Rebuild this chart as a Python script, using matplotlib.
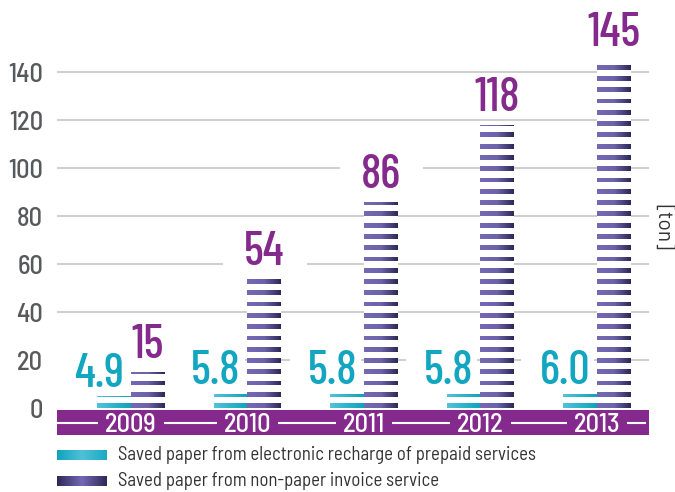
import numpy as np
import matplotlib
matplotlib.use('Agg')
import matplotlib.pyplot as plt
from matplotlib import font_manager
from matplotlib.path import Path
from matplotlib.colors import LinearSegmentedColormap

#-----------------------------------------------------------------------
# Data
years = ['2009', '2010', '2011', '2012', '2013']
recharge = [4.9, 5.8, 5.8, 5.8, 6.0]       # electronic recharge (ton)
invoice = [15, 54, 86, 118, 145]           # non-paper invoice (ton)
yticks = [0, 20, 40, 60, 80, 100, 120, 140]
legend_labels = ['Saved paper from electronic recharge of prepaid services',
                 'Saved paper from non-paper invoice service']
unit_label = '[ton]'

#-----------------------------------------------------------------------
# Fonts (Barlow is close to the DIN look of the original)
def find_font(*names):
    for n in names:
        for f in font_manager.fontManager.ttflist:
            if f.fname.split('/')[-1] == n:
                return f.fname
    return None

f_num = find_font('BarlowCondensed-Medium.ttf', 'BarlowCondensed-Regular.ttf',
                  'DejaVuSansCondensed.ttf')
f_semi = find_font('BarlowSemiCondensed-Medium.ttf', 'BarlowSemiCondensed-Regular.ttf',
                   'BarlowCondensed-Medium.ttf', 'DejaVuSansCondensed.ttf')
f_txt = find_font('BarlowSemiCondensed-Regular.ttf', 'BarlowCondensed-Regular.ttf',
                  'DejaVuSansCondensed.ttf')
f_reg = find_font('Barlow-Regular.ttf', 'DejaVuSans.ttf')


def fp(fname, size):
    if fname is None:
        return font_manager.FontProperties(size=size)
    return font_manager.FontProperties(fname=fname, size=size)


purple = '#852a8d'
teal = '#12a6c1'
gridc = '#cacaca'
tickc = '#58595b'
cyan_cm = LinearSegmentedColormap.from_list('cy', ['#52c3da', '#0ea2bc'])
purp_cm = LinearSegmentedColormap.from_list('pu', ['#7569b4', '#6c63aa', '#2c2857'])

DPI = 100
W = 0.29          # bar width (x units)
PERIOD = 4.7      # stripe period (y units)
THICK = 2.0       # stripe thickness (y units)


def pad_box(left, right, bottom, top, descent=0.21):
    # box around a text, padding in pixels, starting near the baseline
    def box(x0, y0, width, height, mutation_size):
        yb = y0 + descent * mutation_size - bottom
        pts = [(x0 - left, yb), (x0 + width + right, yb),
               (x0 + width + right, y0 + height + top),
               (x0 - left, y0 + height + top), (x0 - left, yb)]
        return Path(pts, closed=True)
    return box


def striped_bar(ax, x, h, cmap, z=3):
    # white bar hides the grid, gradient stripes on top
    ax.bar(x, h, W, color='white', zorder=z, linewidth=0)
    rects = []
    b = 0.0
    while b < h:
        t = min(b + THICK, h)
        rects.append(Path([(x - W/2, b), (x + W/2, b), (x + W/2, t),
                           (x - W/2, t), (x - W/2, b)], closed=True))
        b += PERIOD
    clip = Path.make_compound_path(*rects)
    im = ax.imshow(np.linspace(0, 1, 256)[None, :], cmap=cmap, aspect='auto',
                   extent=(x - W/2, x + W/2, 0, h), zorder=z + 0.5,
                   interpolation='bilinear')
    im.set_clip_path(clip, ax.transData)


#-----------------------------------------------------------------------
fig = plt.figure(figsize=(6.75, 4.92), dpi=DPI)
ax = fig.add_axes([57/675, 57/492, 592/675, 435/492])

xs = np.arange(len(years))
for i in xs:
    striped_bar(ax, i - W/2, recharge[i], cyan_cm)
    striped_bar(ax, i + W/2, invoice[i], purp_cm)

# grid lines (not at 0)
for t in yticks[1:]:
    ax.axhline(t, color=gridc, lw=1.3, zorder=1)

# value labels
for i in xs:
    ax.annotate(f'{invoice[i]:d}', (i + W/2, invoice[i]), xytext=(0, 10),
                textcoords='offset points', ha='center', va='baseline',
                color=purple, fontproperties=fp(f_num, 34), zorder=2,
                bbox=dict(boxstyle=pad_box(21, 22, 5, 3), fc='white', ec='none'))
for i in xs:
    ax.annotate(f'{recharge[i]:.1f}', (i, recharge[i]), xytext=(-5, 7),
                textcoords='offset points', ha='right', va='baseline',
                color=teal, fontproperties=fp(f_num, 34), zorder=2.5,
                bbox=dict(boxstyle=pad_box(18, 4, 3, 3), fc='white', ec='none'))

# purple band with years
ax.axhspan(-11.25, -0.8, color=purple, zorder=4, lw=0)
ax.axhline(-6.25, xmin=0, xmax=0.993, color='white', lw=1.5, zorder=5)
for i in xs:
    ax.text(i, -10.0, years[i], ha='center', va='baseline', color='white',
            fontproperties=fp(f_semi, 19), zorder=6,
            bbox=dict(boxstyle=pad_box(7, 7, 3, 2), fc=purple, ec='none'))

ax.set_xlim(-0.635, 4.447)
ax.set_ylim(-11.25, 170)
ax.set_yticks(yticks)
ax.set_yticklabels([str(t) for t in yticks], fontproperties=fp(f_semi, 19), color=tickc)
ax.tick_params(axis='y', length=0, pad=10)
ax.set_xticks([])
for s in ax.spines.values():
    s.set_visible(False)

fig.text(663/675, 1 - 227/492, unit_label, rotation=270, ha='center', va='center',
         fontproperties=fp(f_reg, 15), color='#333333')

# legend
swatch_cm = [LinearSegmentedColormap.from_list('l1', ['#0fa3bd', '#4fc1d8', '#1aa9c2']),
             LinearSegmentedColormap.from_list('l2', ['#2c2857', '#7569b4', '#2c2857'])]
for k, (lab, cm) in enumerate(zip(legend_labels, swatch_cm)):
    yc = 455 + 26*k
    sax = fig.add_axes([57/675, 1 - (yc + 5)/492, 50/675, 10/492])
    sax.imshow(np.linspace(0, 1, 256)[None, :], cmap=cm, aspect='auto')
    sax.axis('off')
    fig.text(118/675, 1 - yc/492, lab, ha='left', va='center',
             fontproperties=fp(f_txt, 13.5), color='#333333')

fig.savefig('out.png', dpi=DPI)
